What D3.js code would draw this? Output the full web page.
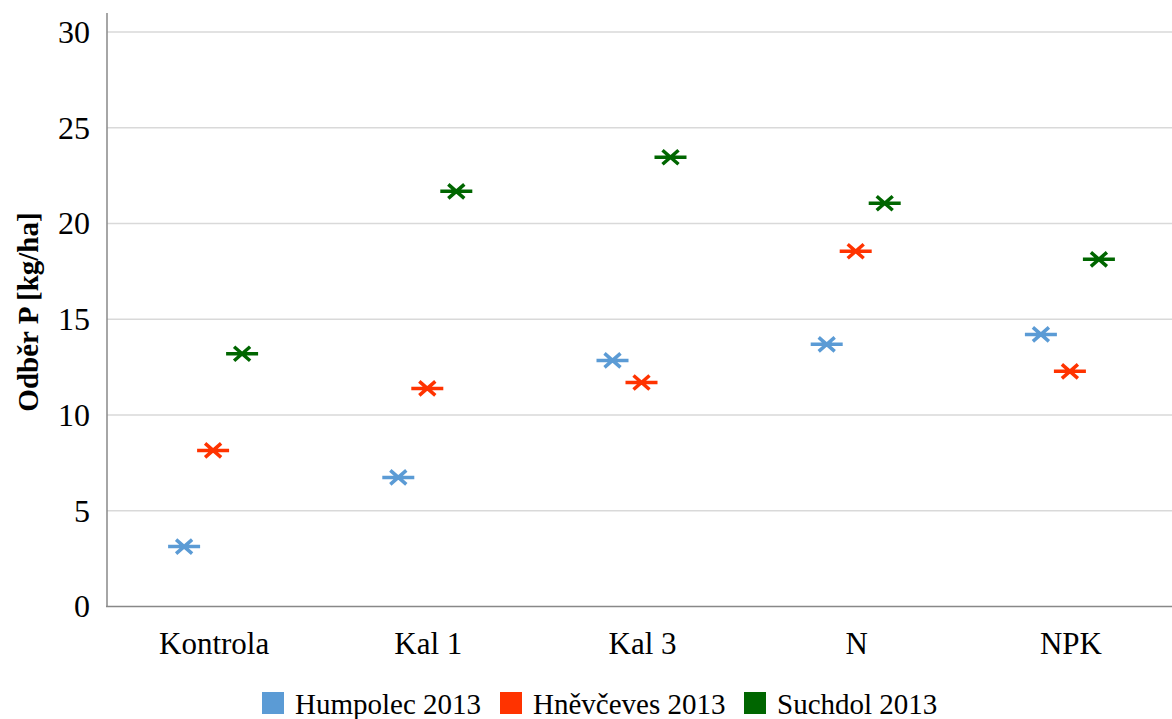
<!DOCTYPE html>
<html><head><meta charset="utf-8">
<script src="https://cdn.jsdelivr.net/npm/d3@7"></script>
<style>body{margin:0;background:#fff}svg{display:block}</style>
</head><body><svg id="c" width="1172" height="719"></svg>
<script>
const categories = ["Kontrola", "Kal 1", "Kal 3", "N", "NPK"];
const seriesNames = ["Humpolec 2013", "Hněvčeves 2013", "Suchdol 2013"];
const humpolec = [3.13, 6.74, 12.85, 13.69, 14.21];
const hnevceves = [8.15, 11.39, 11.70, 18.55, 12.28];
const suchdol = [13.20, 21.68, 23.46, 21.06, 18.13];
const yTicks = [0, 5, 10, 15, 20, 25, 30];
const colors = ["#5B9BD5", "#FF3300", "#006600"];
const allSeries = [humpolec, hnevceves, suchdol];

const svg = d3.select("#c");
const font = "'Liberation Serif','Times New Roman',serif";
const x = d3.scaleBand().domain(categories).range([107, 1178]);
const off = d3.scalePoint().domain(seriesNames).range([-30, 28]);
const y = d3.scaleLinear().domain([0, 30]).range([606.5, 32]);

// gridlines
svg.append("g").selectAll("line").data(yTicks.filter(d => d > 0)).join("line")
  .attr("x1", 107).attr("x2", 1172).attr("y1", d => y(d)).attr("y2", d => y(d))
  .attr("stroke", "#d9d9d9").attr("stroke-width", 1.3);

// y axis
const ya = svg.append("g").attr("transform", "translate(107,0)")
  .call(d3.axisLeft(y).tickValues(yTicks).tickSize(0).tickPadding(17));
ya.select(".domain").remove();
ya.selectAll("text").attr("font-family", font).attr("font-size", 32).attr("fill", "#000");
svg.append("line").attr("x1", 107).attr("x2", 107).attr("y1", 13).attr("y2", 606.5)
  .attr("stroke", "#888").attr("stroke-width", 1.5);
// x axis
const xa = svg.append("g").attr("transform", "translate(0,606.5)")
  .call(d3.axisBottom(x).tickSize(0).tickPadding(25));
xa.select(".domain").remove();
xa.selectAll("text").attr("font-family", font).attr("font-size", 31).attr("fill", "#000");
svg.append("line").attr("x1", 106).attr("x2", 1172).attr("y1", 606.5).attr("y2", 606.5)
  .attr("stroke", "#888").attr("stroke-width", 1.5);

// y label
svg.append("text").attr("transform", "translate(38,312) rotate(-90)")
  .attr("text-anchor", "middle").attr("font-family", font).attr("font-weight", "bold")
  .attr("font-size", 29).text("Odběr P [kg/ha]");

// markers: horizontal line + X
const star = "M-16,0H16M-8,-7L8,7M-8,7L8,-7";
seriesNames.forEach((s, i) => {
  svg.append("g").selectAll("path").data(allSeries[i]).join("path")
    .attr("transform", (d, j) => `translate(${x(categories[j]) + x.bandwidth() / 2 + off(s)},${y(d)})`)
    .attr("d", star).attr("fill", "none").attr("stroke", colors[i]).attr("stroke-width", 3.5);
});

// legend
const legX = [262, 500, 744];
const lg = svg.append("g");
seriesNames.forEach((s, i) => {
  lg.append("rect").attr("x", legX[i]).attr("y", 692).attr("width", 22).attr("height", 22).attr("fill", colors[i]);
  lg.append("text").attr("x", legX[i] + 33).attr("y", 714).attr("font-family", font)
    .attr("font-size", 29).text(s);
});
</script></body></html>
